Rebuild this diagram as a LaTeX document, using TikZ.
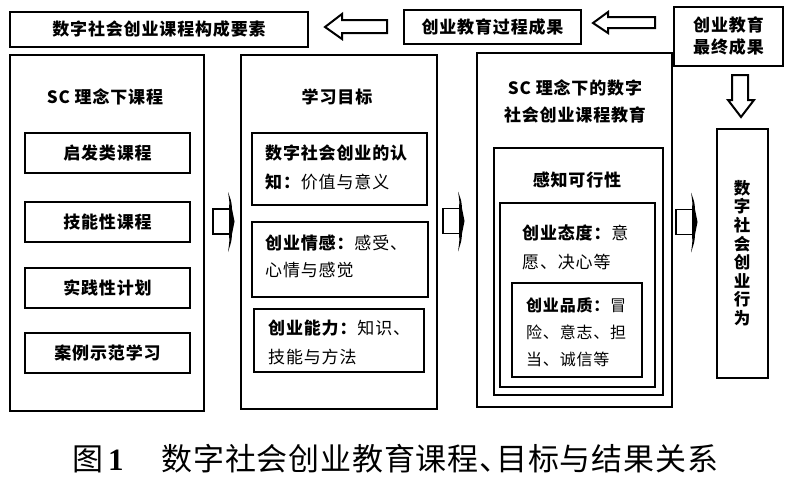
\documentclass[tikz,border=0pt]{standalone}
\usepackage{fontspec}
\setmainfont{Noto Sans CJK SC}[LetterSpace=5]
\newfontfamily\capfont{Noto Sans CJK SC}[LetterSpace=2.5]
\newfontfamily\numfont{Liberation Serif}
\begin{document}
\begin{tikzpicture}[x=1pt,y=-1pt,
  box/.style={draw, line width=2.2pt, inner sep=0pt},
  sub/.style={draw, line width=2pt, inner sep=0pt},
  lbl/.style={font=\fontsize{17}{20}\selectfont\bfseries, inner sep=0pt},
  para/.style={font=\fontsize{17}{29}\selectfont, align=left, inner sep=0pt, anchor=west},
  harrow/.style={draw, line width=2pt, fill=white, line join=miter},
  colarrow/.pic={
    \draw[line width=1.8pt] (16,-12.5) -- (0,-12.5) -- (0,12.5) -- (16,12.5);
    \fill (15,-29.5) .. controls (18.5,-20) .. (19,-12.5) -- (21.5,0) -- (19,12.5)
      .. controls (18.5,20) .. (15,30.5) .. controls (16.5,20) .. (16,12.5)
      -- (16,-12.5) .. controls (16.5,-20) .. cycle;
  }]
\useasboundingbox[fill=white] (0,0) rectangle (800,482);

% top row
\node[box, lbl, minimum width=298pt, minimum height=35pt] (tl) at (159,29.5) {数字社会创业课程构成要素};
\node[box, lbl, minimum width=177pt, minimum height=34pt] (proc) at (492.5,27) {创业教育过程成果};
\node[box, lbl, minimum width=109pt, minimum height=59pt, align=center,
      font=\fontsize{17}{22}\selectfont\bfseries] (final) at (728.5,36.5) {创业教育\\最终成果};

% hollow arrows
\draw[harrow] (325,27) -- (342,14) -- (342,20) -- (387,20) -- (387,33) -- (342,33) -- (342,39) -- cycle;
\draw[harrow] (593,23) -- (608,12) -- (608,17) -- (655,17) -- (655,28) -- (608,28) -- (608,33) -- cycle;
\draw[harrow] (741,117) -- (728,100) -- (732,100) -- (732,75) -- (748,75) -- (748,100) -- (754,100) -- cycle;

% column 1
\node[box, minimum width=194pt, minimum height=356pt] (c1) at (107,233) {};
\node[lbl] (c1t) at (105,97) {SC 理念下课程};
\node[sub, lbl, minimum width=165pt, minimum height=40pt] (c1a) at (107.5,153) {启发类课程};
\node[sub, lbl, minimum width=165pt, minimum height=40pt] (c1b) at (107.5,222) {技能性课程};
\node[sub, lbl, minimum width=165pt, minimum height=40pt] (c1c) at (107.5,288) {实践性计划};
\node[sub, lbl, minimum width=165pt, minimum height=40pt] (c1d) at (107.5,353) {案例示范学习};

% column 2
\node[box, minimum width=196pt, minimum height=354pt] (c2) at (339,232) {};
\node[lbl] (c2t) at (337,97) {学习目标};
\node[sub, minimum width=175pt, minimum height=72pt] (c2a) at (339.5,169) {};
\node[para] (c2at) at (265,167.5) {\textbf{数字社会创业的认}\\\textbf{知：}价值与意义};
\node[sub, minimum width=176pt, minimum height=75pt] (c2b) at (340,259.5) {};
\node[para, font=\fontsize{17}{27}\selectfont] (c2bt) at (265,256.5) {\textbf{创业情感：}感受、\\心情与感觉};
\node[sub, minimum width=170pt, minimum height=63pt] (c2c) at (339,340.5) {};
\node[para] (c2ct) at (268,342.5) {\textbf{创业能力：}知识、\\技能与方法};

% column 3
\node[box, minimum width=195pt, minimum height=354pt] (c3) at (574.5,230) {};
\node[lbl, align=center, font=\fontsize{17}{27}\selectfont\bfseries] (c3t) at (575,101.5) {SC 理念下的数字\\社会创业课程教育};
\node[sub, minimum width=169pt, minimum height=247pt] (c3a) at (578.5,271.5) {};
\node[lbl] (c3at) at (577,180) {感知可行性};
\node[sub, minimum width=155pt, minimum height=184pt] (c3b) at (577.5,295) {};
\node[para] (c3bt) at (522,247.5) {\textbf{创业态度：}意\\愿、决心等};
\node[sub, minimum width=130pt, minimum height=94pt] (c3c) at (577,330) {};
\node[para, font=\fontsize{16}{27}\selectfont] (c3ct) at (526,332) {\textbf{创业品质：}冒\\险、意志、担\\当、诚信等};

% column 4
\node[box, minimum width=51pt, minimum height=249pt] (c4) at (742.5,253.5) {};
\node[lbl, align=center, font=\fontsize{16.5}{18.6}\selectfont\bfseries] (c4t) at (742,253) {数\\字\\社\\会\\创\\业\\行\\为};

% column arrows
\pic (ar1) at (213,221.5) {colarrow};
\pic (ar2) at (443,221) {colarrow};
\pic (ar3) at (676,222) {colarrow};

% caption
\node[inner sep=0pt, anchor=west, font=\fontsize{31}{36}\selectfont] (cap) at (72,459)
  {\capfont 图\hspace{5pt}{\numfont\bfseries 1}\hspace{38pt}数字社会创业教育课程、\kern-14pt 目标与结果关系};
\end{tikzpicture}
\end{document}
